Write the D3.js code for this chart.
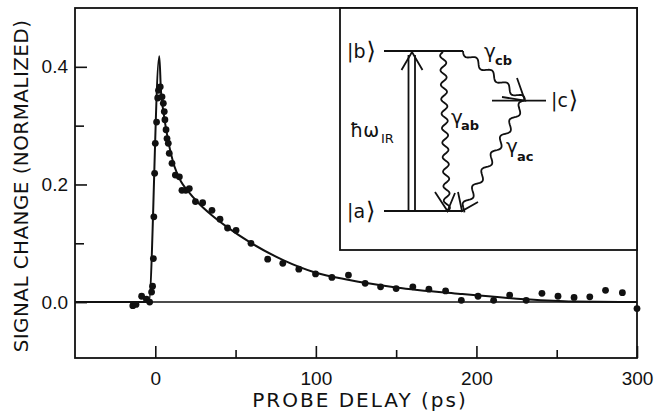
<!DOCTYPE html>
<html>
<head>
<meta charset="utf-8">
<script src="https://cdn.jsdelivr.net/npm/d3@7"></script>
<style>
  body { margin: 0; background: #fff; }
  svg { display: block; font-family: "DejaVu Sans", sans-serif; }
  .axis text { font-size: 19px; fill: #111; }
  .axis line { stroke: #111; stroke-width: 1.6; }
  .axis path { display: none; }
</style>
</head>
<body>
<div id="chart"></div>
<script>
// measured points: probe delay (ps) and normalized signal change
var delay = [-14, -12, -8.5, -5.5, -3.5, -2.3, -1.7, -1.2, -0.9, -0.4, 0, 0.8, 1.5, 2, 3.1, 4.2, 5, 5.6, 6,
  6.7, 7.3, 8.1, 8.7, 10.4, 12.5, 15, 16.6, 19, 21.2, 25, 29.5, 35.3, 40.3, 45, 50.3, 59.6, 70, 79.4,
  89.4, 99.8, 110, 120.3, 130.7, 140.3, 150, 160.4, 170.4, 180.8, 190.6, 201, 210.7, 220.7, 231,
  240.8, 250.8, 260.8, 270.6, 280.4, 290.9, 300];
var signal = [-0.006, -0.004, 0.01, 0.005, 0.0, 0.017, 0.027, 0.074, 0.145, 0.219, 0.27, 0.306, 0.347,
  0.36, 0.366, 0.349, 0.338, 0.324, 0.31, 0.293, 0.278, 0.27, 0.253, 0.236, 0.216, 0.213, 0.19, 0.19,
  0.193, 0.171, 0.169, 0.156, 0.141, 0.126, 0.122, 0.1, 0.073, 0.066, 0.056, 0.048, 0.042, 0.046,
  0.032, 0.026, 0.023, 0.026, 0.022, 0.019, 0.003, 0.01, 0.003, 0.012, 0.003, 0.015, 0.01, 0.008,
  0.009, 0.02, 0.016, -0.011];

// fitted curve
var fitDelay = [-50, -4, 2.5, 3.5, 5, 8, 12, 16, 20, 27, 35, 45, 60, 80, 100, 120, 150, 190, 230, 260, 300];
var fitSignal = [0, 0, 0.418, 0.36, 0.325, 0.275, 0.23, 0.205, 0.19, 0.168, 0.148, 0.127, 0.1, 0.071,
  0.05, 0.038, 0.025, 0.014, 0.005, 0.001, 0];

var xMajor = [0, 100, 200, 300];
var xMinor = [50, 150, 250];
var yMajor = [0, 0.2, 0.4];
var yMinor = [0.1, 0.3];

var width = 661, height = 412;
var plotL = 75, plotR = 637, plotT = 8, plotB = 358;

var svg = d3.select("#chart").append("svg")
  .attr("width", width)
  .attr("height", height);

var x = d3.scaleLinear().domain([-50, 300]).range([plotL, plotR]);
var y = d3.scaleLinear().domain([-0.095, 0.5]).range([plotB, plotT]);

// axes (ticks point inwards)
svg.append("g").attr("class", "axis")
  .attr("transform", "translate(0," + plotB + ")")
  .call(d3.axisBottom(x).tickValues(xMajor).tickSize(-12).tickPadding(14).tickFormat(d3.format("d")));
svg.append("g").attr("class", "axis")
  .attr("transform", "translate(0," + plotB + ")")
  .call(d3.axisBottom(x).tickValues(xMinor).tickSize(-8).tickFormat(""));
svg.append("g").attr("class", "axis")
  .attr("transform", "translate(" + plotL + ",0)")
  .call(d3.axisLeft(y).tickValues(yMajor).tickSize(-12).tickPadding(7).tickFormat(d3.format(".1f")));
svg.append("g").attr("class", "axis")
  .attr("transform", "translate(" + plotL + ",0)")
  .call(d3.axisLeft(y).tickValues(yMinor).tickSize(-9).tickFormat(""));

// frame
svg.append("rect")
  .attr("x", plotL).attr("y", plotT)
  .attr("width", plotR - plotL).attr("height", plotB - plotT)
  .attr("fill", "none").attr("stroke", "#111").attr("stroke-width", 1.8);

// zero line
svg.append("line")
  .attr("x1", plotL).attr("x2", plotR)
  .attr("y1", y(0)).attr("y2", y(0))
  .attr("stroke", "#111").attr("stroke-width", 1.5);

// fit curve
var fit = d3.zip(fitDelay, fitSignal);
svg.append("path")
  .datum(fit)
  .attr("fill", "none")
  .attr("stroke", "#111")
  .attr("stroke-width", 2)
  .attr("d", d3.line().x(function(d) { return x(d[0]); }).y(function(d) { return y(d[1]); }).curve(d3.curveMonotoneX));

// data points
svg.append("g").selectAll("circle")
  .data(d3.zip(delay, signal))
  .enter().append("circle")
  .attr("cx", function(d) { return x(d[0]); })
  .attr("cy", function(d) { return y(d[1]); })
  .attr("r", 3.4)
  .attr("fill", "#111");

// axis titles
svg.append("text")
  .attr("transform", "translate(28,186) rotate(-90)")
  .attr("text-anchor", "middle")
  .style("font-size", "20px").style("letter-spacing", "0.4px")
  .attr("fill", "#111")
  .text("SIGNAL CHANGE (NORMALIZED)");
svg.append("text")
  .attr("x", 360).attr("y", 407)
  .attr("text-anchor", "middle")
  .style("font-size", "20px").style("letter-spacing", "2px")
  .attr("fill", "#111")
  .text("PROBE DELAY (ps)");

// ---- inset: level scheme ----
var inset = svg.append("g");
var insetL = 340;
var insetB = 250;

inset.append("rect")
  .attr("x", insetL).attr("y", plotT)
  .attr("width", plotR - insetL).attr("height", insetB - plotT)
  .attr("fill", "#fff").attr("stroke", "#111").attr("stroke-width", 1.8);

// energy scale of the scheme: a = 0, b = 1
var E = d3.scaleLinear().domain([0, 1]).range([211, 51]);
var Ec = 0.69;

var ink = function(sel) { return sel.attr("stroke", "#111").attr("stroke-width", 1.8).attr("fill", "none"); };

function seg(x1, y1, x2, y2) {
  inset.append("line").attr("x1", x1).attr("y1", y1).attr("x2", x2).attr("y2", y2).call(ink);
}

// levels
seg(384, E(1), 463, E(1));
seg(384, E(0), 463, E(0));
seg(492, E(Ec), 546, E(Ec));

// pump arrow (open double shaft)
seg(408.5, E(0), 408.5, E(1) + 4);
seg(415, E(0), 415, E(1) + 4);
inset.append("path").call(ink)
  .attr("d", d3.line()([[401.5, E(1) + 19], [412, E(1) + 1], [422.5, E(1) + 19]]));

// wavy decay lines
function wavy(p0, p1, period, amp) {
  var dx = p1[0] - p0[0], dy = p1[1] - p0[1], L = Math.hypot(dx, dy);
  var ux = dx / L, uy = dy / L, n = Math.round(L / period * 20), pts = [];
  for (var i = 0; i <= n; i++) {
    var s = i / n * L, w = amp * Math.sin(2 * Math.PI * s / period);
    pts.push([p0[0] + ux * s - uy * w, p0[1] + uy * s + ux * w]);
  }
  return d3.line()(pts);
}
inset.append("path").call(ink).attr("d", wavy([443, E(1) + 1], [447, E(0) - 1], 14.5, 3));
inset.append("path").call(ink).attr("d", wavy([463, E(1)], [524, E(Ec)], 20, 3.2));
inset.append("path").call(ink).attr("d", wavy([524, E(Ec)], [462, E(0)], 19, 3.2));

// arrow heads
inset.append("path").call(ink).attr("d", d3.line()([[435, 192], [447.5, E(0)], [455, 193]]));
inset.append("path").call(ink).attr("d", d3.line()([[458, 192], [462, E(0)], [478, 202]]));
inset.append("path").call(ink).attr("d", d3.line()([[517, 78], [525, E(Ec)], [502, 97]]));

// labels
function label(tx, ty, str, size) {
  return inset.append("text").attr("x", tx).attr("y", ty)
    .style("font-size", size + "px").attr("fill", "#111").text(str);
}
function ket(tx, ty, name) {
  var t = inset.append("text").attr("x", tx).attr("y", ty).attr("fill", "#111").style("font-size", "19px");
  t.append("tspan").text("|" + name);
  t.append("tspan").attr("dx", 1).style("font-size", "24px").attr("dy", 1).text("\u27E9");
}
ket(347, 58, "b");
ket(347, 218, "a");
ket(551, 107, "c");
label(350, 137, "\u0127\u03C9", 19);
label(381, 143, "IR", 13);
label(451, 124, "\u03B3", 20);
label(461, 130, "ab", 13).style("font-weight", "bold");
label(484, 58, "\u03B3", 20);
label(495, 65, "cb", 13).style("font-weight", "bold");
label(506, 153, "\u03B3", 20);
label(517, 161, "ac", 13).style("font-weight", "bold");
</script>
</body>
</html>
